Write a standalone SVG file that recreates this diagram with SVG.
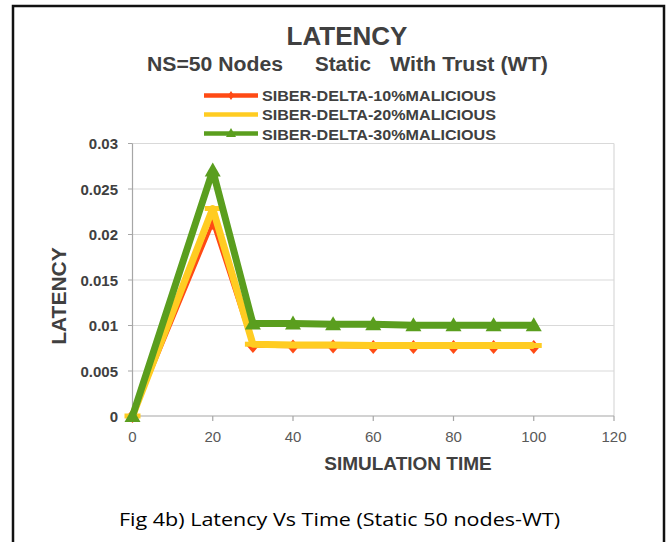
<svg xmlns="http://www.w3.org/2000/svg" xmlns:xlink="http://www.w3.org/1999/xlink" width="670" height="542" viewBox="0 0 670 542">
<style>
.t{font-family:"Liberation Sans",Arial,sans-serif;fill:#404040;font-weight:bold}
.ylab{font-family:"Liberation Sans",Arial,sans-serif;fill:#404040;font-weight:bold;font-size:15px;text-anchor:end}
.xlab{font-family:"Liberation Sans",Arial,sans-serif;fill:#595959;font-size:15px;text-anchor:middle}
.grid{stroke:#D9D9D9;stroke-width:1.2;fill:none}
.axis{stroke:#A6A6A6;stroke-width:1.2;fill:none}
.leg{font-family:"Liberation Sans",Arial,sans-serif;fill:#404040;font-weight:bold;font-size:14.5px}
</style>
<defs>
<path id="tri" d="M0,-8 L8,6 L-8,6Z" fill="#5A9E1E"/>
<path id="dia" d="M0,-7 L6,0 L0,7 L-6,0Z" fill="#FF4A14"/>
<rect id="dash" x="-8" y="-2.5" width="16" height="5" fill="#FFCC22"/>
</defs>
<rect width="670" height="542" fill="#fff"/>
<path d="M13,542 V6 H664 V542" fill="none" stroke="#111" stroke-width="2.5"/>

<g id="title">
<text class="t" x="347" y="45" font-size="26" text-anchor="middle">LATENCY</text>
<text class="t" x="147" y="71" font-size="19.5" textLength="136" lengthAdjust="spacingAndGlyphs">NS=50 Nodes</text>
<text class="t" x="315" y="71" font-size="19.5" textLength="56" lengthAdjust="spacingAndGlyphs">Static</text>
<text class="t" x="390" y="71" font-size="19.5" textLength="158" lengthAdjust="spacingAndGlyphs">With Trust (WT)</text>
</g>

<g id="legend">
<line x1="204" y1="95.5" x2="258" y2="95.5" stroke="#FF4A14" stroke-width="4.5"/>
<path d="M231,91 L234,95.5 L231,100 L228,95.5Z" fill="#FF4A14"/>
<text class="leg" x="262" y="101" textLength="234" lengthAdjust="spacingAndGlyphs">SIBER-DELTA-10%MALICIOUS</text>
<line x1="204" y1="114.5" x2="258" y2="114.5" stroke="#FFCC22" stroke-width="4.5"/>
<text class="leg" x="262" y="120" textLength="234" lengthAdjust="spacingAndGlyphs">SIBER-DELTA-20%MALICIOUS</text>
<line x1="204" y1="133.5" x2="258" y2="133.5" stroke="#5A9E1E" stroke-width="4.5"/>
<path d="M231,128 L236,137 L226,137Z" fill="#5A9E1E"/>
<text class="leg" x="262" y="139.5" textLength="234" lengthAdjust="spacingAndGlyphs">SIBER-DELTA-30%MALICIOUS</text>
</g>

<g id="grid">
<path class="grid" d="M132.5,143.5 H614 M132.5,189 H614 M132.5,234.5 H614 M132.5,280 H614 M132.5,325.5 H614 M132.5,371 H614 M614,143.5 V416"/>
</g>
<g id="axes">
<path class="axis" d="M132.5,143.5 V416 H614 M128,143.5 H132.5 M128,189 H132.5 M128,234.5 H132.5 M128,280 H132.5 M128,325.5 H132.5 M128,371 H132.5 M128,416 H132.5 M132.5,416 V421 M212.75,416 V421 M293,416 V421 M373.25,416 V421 M453.5,416 V421 M533.75,416 V421 M614,416 V421"/>
<text class="ylab" x="118" y="149">0.03</text>
<text class="ylab" x="118" y="194.5">0.025</text>
<text class="ylab" x="118" y="240">0.02</text>
<text class="ylab" x="118" y="285.5">0.015</text>
<text class="ylab" x="118" y="331">0.01</text>
<text class="ylab" x="118" y="376.5">0.005</text>
<text class="ylab" x="118" y="422">0</text>
<text class="xlab" x="132.5" y="442">0</text>
<text class="xlab" x="212.75" y="442">20</text>
<text class="xlab" x="293" y="442">40</text>
<text class="xlab" x="373.25" y="442">60</text>
<text class="xlab" x="453.5" y="442">80</text>
<text class="xlab" x="533.75" y="442">100</text>
<text class="xlab" x="614" y="442">120</text>
<text class="t" x="66" y="296" font-size="21" text-anchor="middle" transform="rotate(-90 66 296)">LATENCY</text>
<text class="t" x="408" y="470" font-size="19" text-anchor="middle">SIMULATION TIME</text>
</g>

<g id="series-10">
<polyline points="132.5,416 212.75,223 252.9,346 293,346.5 333.1,346.5 373.25,347 413.4,347 453.5,347 493.6,347 533.75,347" fill="none" stroke="#FF4A14" stroke-width="3.5" stroke-linejoin="round"/>
<use xlink:href="#dia" x="132.5" y="416"/><use xlink:href="#dia" x="212.75" y="223"/><use xlink:href="#dia" x="252.9" y="346"/><use xlink:href="#dia" x="293" y="346.5"/><use xlink:href="#dia" x="333.1" y="346.5"/><use xlink:href="#dia" x="373.25" y="347"/><use xlink:href="#dia" x="413.4" y="347"/><use xlink:href="#dia" x="453.5" y="347"/><use xlink:href="#dia" x="493.6" y="347"/><use xlink:href="#dia" x="533.75" y="347"/>
</g>
<g id="series-20">
<polyline points="132.5,416 212.75,208.5 252.9,344.2 293,345 333.1,345 373.25,345.5 413.4,345.5 453.5,345.5 493.6,345.5 533.75,345.5" fill="none" stroke="#FFCC22" stroke-width="7" stroke-linejoin="round"/>
<use xlink:href="#dash" x="132.5" y="416"/><use xlink:href="#dash" x="212.75" y="208.5"/><use xlink:href="#dash" x="252.9" y="344.2"/><use xlink:href="#dash" x="293" y="345"/><use xlink:href="#dash" x="333.1" y="345"/><use xlink:href="#dash" x="373.25" y="345.5"/><use xlink:href="#dash" x="413.4" y="345.5"/><use xlink:href="#dash" x="453.5" y="345.5"/><use xlink:href="#dash" x="493.6" y="345.5"/><use xlink:href="#dash" x="533.75" y="345.5"/>
</g>
<g id="series-30">
<polyline points="132.5,416 212.75,170.5 252.9,323.4 293,323.4 333.1,324.3 373.25,324.3 413.4,325.2 453.5,325.2 493.6,325.2 533.75,325.2" fill="none" stroke="#5A9E1E" stroke-width="7" stroke-linejoin="round"/>
<use xlink:href="#tri" x="132.5" y="416"/><use xlink:href="#tri" x="212.75" y="170.5"/><use xlink:href="#tri" x="252.9" y="323.4"/><use xlink:href="#tri" x="293" y="323.4"/><use xlink:href="#tri" x="333.1" y="324.3"/><use xlink:href="#tri" x="373.25" y="324.3"/><use xlink:href="#tri" x="413.4" y="325.2"/><use xlink:href="#tri" x="453.5" y="325.2"/><use xlink:href="#tri" x="493.6" y="325.2"/><use xlink:href="#tri" x="533.75" y="325.2"/>
</g>

<g id="caption">
<text x="119" y="526" font-family="'Open Sans','Liberation Sans',sans-serif" font-size="18" fill="#000" textLength="441" lengthAdjust="spacingAndGlyphs">Fig 4b) Latency Vs Time (Static 50 nodes-WT)</text>
</g>
</svg>
